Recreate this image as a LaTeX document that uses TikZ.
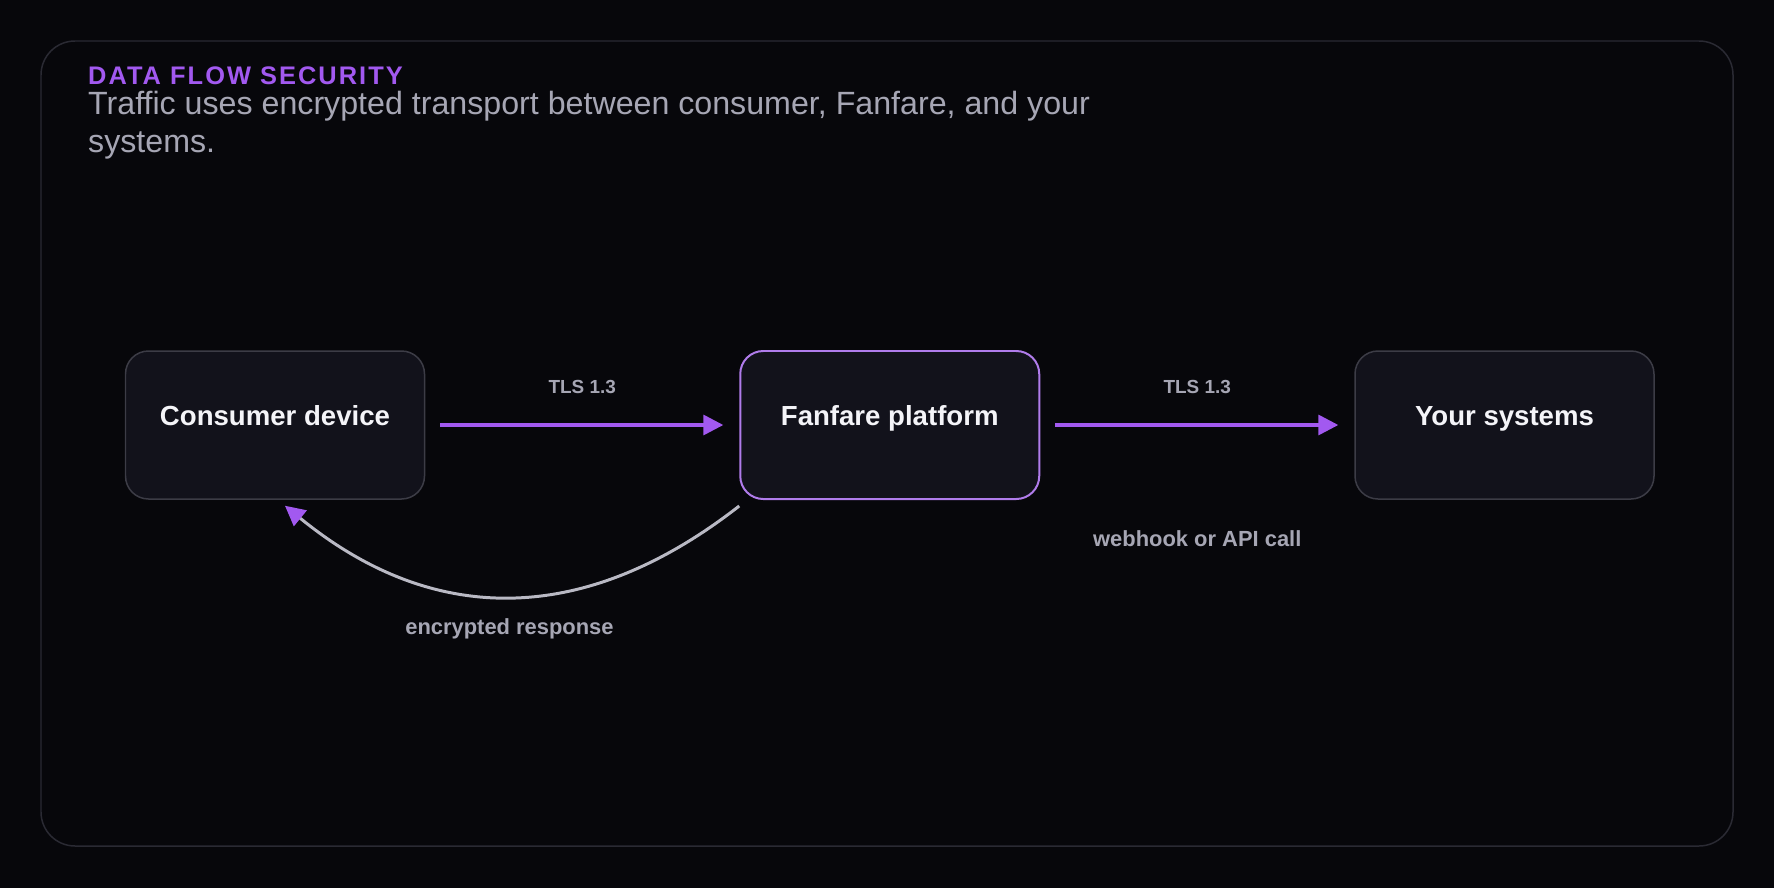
\documentclass[tikz,border=0pt]{standalone}
\usepackage{fontspec}
\setmainfont{Liberation Sans}
\newfontfamily\kickerfont[LetterSpace=8]{Liberation Sans}
\usetikzlibrary{arrows.meta,positioning}
\definecolor{ink}{HTML}{07070B}
\definecolor{panel}{HTML}{12121B}
\definecolor{frame}{HTML}{2A2A33}
\definecolor{edge}{HTML}{3C3C46}
\definecolor{violet}{HTML}{A259F0}
\definecolor{lilac}{HTML}{B07CEB}
\definecolor{mist}{HTML}{A6A6B4}
\definecolor{silver}{HTML}{B9B9C4}
\definecolor{snow}{HTML}{F4F4F8}

\begin{document}
\begin{tikzpicture}[x=1bp, y=-1bp,
  node distance=314bp,
  stage/.style={draw=edge, line width=1.5pt, rounded corners=23bp, fill=panel,
                minimum width=299bp, minimum height=148bp, inner sep=0pt,
                text=snow, font=\bfseries\fontsize{27.7}{32}\selectfont,
                text height=20pt, text depth=20pt},
  hub/.style={stage, draw=lilac, line width=2pt},
  flow/.style={-{Triangle[length=20pt,width=20pt]}, line width=3.3pt, draw=violet,
               shorten <=15pt, shorten >=16pt},
  reply/.style={-{Triangle[length=20pt,width=20pt,color=violet]}, line width=3pt, draw=silver},
  tag/.style={text=mist, font=\bfseries\fontsize{19}{22}\selectfont, inner sep=0pt},
  note/.style={tag, font=\bfseries\fontsize{22}{26}\selectfont}
]
  % canvas and outer frame
  \useasboundingbox (0,0) rectangle (1774,887);
  \fill[ink] (-4,-4) rectangle (1778,891);
  \draw[frame, line width=1.5pt, rounded corners=34bp] (41,41) rectangle (1733,846);

  % heading
  \node[anchor=west, inner sep=0pt, text=violet,
        font=\kickerfont\bfseries\fontsize{25.5}{30}\selectfont] (kicker) at (88,76) {DATA FLOW SECURITY};
  \node[anchor=north west, inner sep=0pt, align=left, text=mist,
        font=\fontsize{32.3}{38}\selectfont] (lede) at (88,91)
        {Traffic uses encrypted transport between consumer, Fanfare, and your\\systems.};

  % stages
  \node[stage] (consumer) at (275,425) {Consumer device};
  \node[hub, right=of consumer] (fanfare) {Fanfare platform};
  \node[stage, right=of fanfare] (systems) {Your systems};

  % connectors
  \draw[flow] (consumer) -- (fanfare) node[tag, midway, above=30pt] {TLS 1.3};
  \draw[flow] (fanfare) -- (systems) node[tag, midway, above=30pt] {TLS 1.3}
    node[note, midway, below=104pt] {webhook or API call};
  \draw[reply] ([yshift=-6pt]fanfare.south west) .. controls +(-155,121) and +(148,121) ..
    ([xshift=10pt,yshift=-6pt]consumer.south) node[note, pos=0.5, below=21pt] {encrypted response};
\end{tikzpicture}
\end{document}
